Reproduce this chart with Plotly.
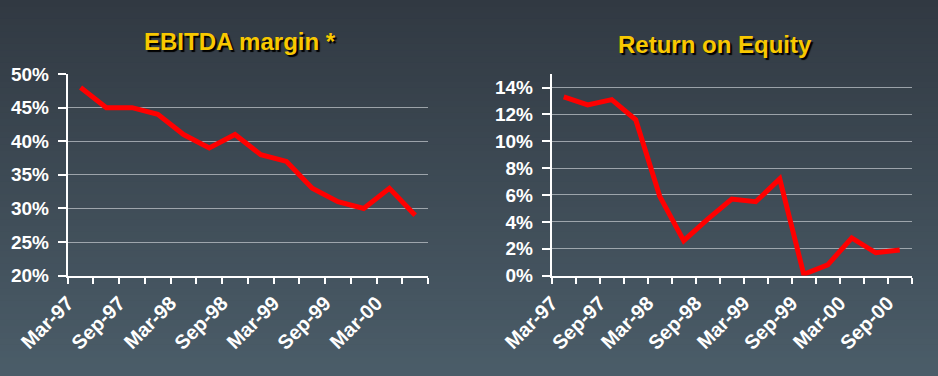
import plotly.graph_objects as go

# ---- data ----
quarters_left = ["Mar-97", "Jun-97", "Sep-97", "Dec-97", "Mar-98", "Jun-98", "Sep-98",
                 "Dec-98", "Mar-99", "Jun-99", "Sep-99", "Dec-99", "Mar-00", "Jun-00"]
ebitda_margin = [0.48, 0.45, 0.45, 0.44, 0.41, 0.39, 0.41,
                 0.38, 0.37, 0.33, 0.31, 0.30, 0.33, 0.29]

quarters_right = ["Mar-97", "Jun-97", "Sep-97", "Dec-97", "Mar-98", "Jun-98", "Sep-98",
                  "Dec-98", "Mar-99", "Jun-99", "Sep-99", "Dec-99", "Mar-00", "Jun-00", "Sep-00"]
roe = [0.133, 0.127, 0.131, 0.116, 0.059, 0.026, 0.042,
       0.057, 0.055, 0.072, 0.001, 0.008, 0.028, 0.017, 0.019]

title_left = "EBITDA margin *"
title_right = "Return on Equity"

# ---- style ----
W, H = 938, 376
RED = "#ff0000"
WHITE = "#ffffff"
GRID = "rgba(190,195,200,0.75)"
YELLOW = "#f8c800"
FONT = "Liberation Sans, Arial, sans-serif"

fig = go.Figure()

xl = list(range(len(quarters_left)))
xr = list(range(len(quarters_right)))

fig.add_trace(go.Scatter(x=xl, y=ebitda_margin, mode="lines",
                         line=dict(color=RED, width=5), xaxis="x", yaxis="y",
                         hoverinfo="skip", showlegend=False))
fig.add_trace(go.Scatter(x=xr, y=roe, mode="lines",
                         line=dict(color=RED, width=5), xaxis="x2", yaxis="y2",
                         hoverinfo="skip", showlegend=False))

def xaxis_cfg(cats, domain, anchor):
    n = len(cats)
    vals = [i - 0.5 for i in range(n) if cats[i][:3] in ("Mar", "Sep")]
    txt = [cats[i] for i in range(n) if cats[i][:3] in ("Mar", "Sep")]
    return dict(domain=domain, anchor=anchor, range=[-0.5, n - 0.5], automargin=False,
                tickmode="array", tickvals=vals, ticktext=txt, tickangle=-45,
                ticks="", showgrid=False, zeroline=False, ticklabelstandoff=6,
                showline=True, linecolor=WHITE, linewidth=2,
                tickfont=dict(family=FONT, size=20, color=WHITE, weight="bold"),
                minor=dict(ticks="outside", tickmode="linear", tick0=-0.5, dtick=1,
                           ticklen=6, tickcolor=WHITE, tickwidth=2, showgrid=False),
                fixedrange=True)

def yaxis_cfg(rng, dtick, domain, anchor):
    return dict(domain=domain, anchor=anchor, range=rng, dtick=dtick, tick0=0,
                automargin=False, ticklabelstandoff=5,
                tickformat=".0%", ticks="outside", ticklen=8, tickcolor=WHITE, tickwidth=1.5,
                showline=True, linecolor=WHITE, linewidth=2,
                showgrid=True, gridcolor=GRID, gridwidth=1, zeroline=False,
                tickfont=dict(family=FONT, size=19, color=WHITE, weight="bold"),
                fixedrange=True)

ydom = [0.267, 0.803]

# gradient background as bands
shapes = []
top = (0x31, 0x39, 0x42)
bot = (0x4b, 0x5d, 0x69)
nb = 60
for k in range(nb):
    t = (k + 0.5) / nb
    c = tuple(int(round(top[j] + (bot[j] - top[j]) * t)) for j in range(3))
    shapes.append(dict(type="rect", xref="paper", yref="paper", x0=0, x1=1,
                       y0=1 - (k + 1) / nb - 0.002, y1=1 - k / nb,
                       fillcolor="rgb(%d,%d,%d)" % c, line=dict(width=0), layer="below"))

fig.update_layout(
    template="none",
    width=W, height=H,
    margin=dict(l=0, r=0, t=0, b=0, pad=0, autoexpand=False),
    paper_bgcolor="#3e4a55", plot_bgcolor="rgba(0,0,0,0)",
    xaxis=xaxis_cfg(quarters_left, [0.0722, 0.4563], "y"),
    yaxis=yaxis_cfg([0.2, 0.5], 0.05, ydom, "x"),
    xaxis2=xaxis_cfg(quarters_right, [0.5882, 0.972], "y2"),
    yaxis2=yaxis_cfg([0, 0.15], 0.02, ydom, "x2"),
    shapes=shapes,
    annotations=[
        dict(text=title_left, x=240 / W, y=1 - 42 / H, xref="paper", yref="paper",
             showarrow=False, xanchor="center", yanchor="middle",
             font=dict(family=FONT, size=24, color=YELLOW, weight="bold",
                       shadow="2px 2px 1px #000000")),
        dict(text=title_right, x=715 / W, y=1 - 44 / H, xref="paper", yref="paper",
             showarrow=False, xanchor="center", yanchor="middle",
             font=dict(family=FONT, size=24, color=YELLOW, weight="bold",
                       shadow="2px 2px 1px #000000")),
    ],
)

fig.write_html("out.html", config={"displayModeBar": False},
               post_script="document.body.style.margin='0';")
